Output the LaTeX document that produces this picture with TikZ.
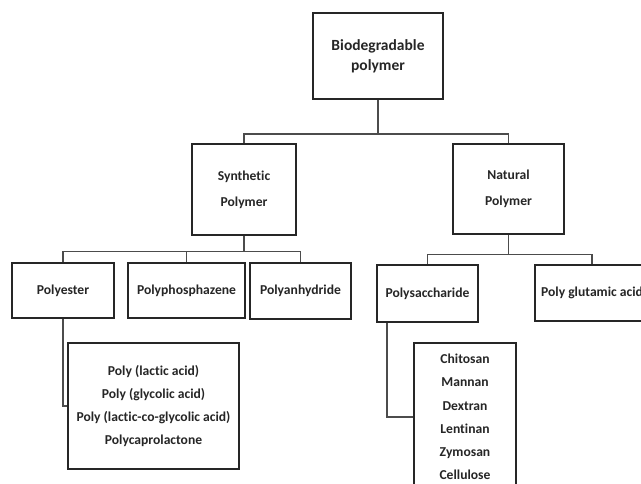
\documentclass[tikz,border=0pt]{standalone}
\usepackage{fontspec}
\setmainfont{Carlito}[Ligatures=NoCommon]
\usetikzlibrary{calc}
\tikzset{
  pbox/.style={draw=black!85, line width=1.6pt, inner sep=0pt, align=center, text=black!85,
    font=\fontsize{13.6}{23.3}\selectfont\bfseries},
  conn/.style={draw=black!70, line width=1.6pt},
}
\begin{document}
\begin{tikzpicture}[x=1pt,y=-1pt]
\fill[white] (0,0) rectangle (641,484);
\useasboundingbox (0,0) rectangle (641,484);
\clip (0,0) rectangle (641,484);
% nodes
\node[pbox, minimum width=130pt, minimum height=86pt, font=\fontsize{15.5}{20}\selectfont\bfseries] (top) at (378,56) {Biodegradable\\polymer};
\node[pbox, minimum width=104pt, minimum height=91pt, font=\fontsize{13.6}{26}\selectfont\bfseries] (syn) at (244,189.5) {Synthetic\\Polymer};
\node[pbox, minimum width=111pt, minimum height=90pt, font=\fontsize{13.6}{26}\selectfont\bfseries] (nat) at (508.5,189) {Natural\\Polymer};
\node[pbox, minimum width=102pt, minimum height=55pt] (pe) at (63,290.5) {Polyester};
\node[pbox, minimum width=117pt, minimum height=55pt] (pp) at (186.5,290.5) {Polyphosphazene};
\node[pbox, minimum width=101pt, minimum height=56pt] (pa) at (300.5,291) {Polyanhydride};
\node[pbox, minimum width=101pt, minimum height=57pt] (ps) at (427.5,293.5) {Polysaccharide};
\node[pbox, minimum width=114pt, minimum height=56pt] (pg) at (592,293) {Poly glutamic acid};
\node[pbox, minimum width=171pt, minimum height=126pt] (pel) at (153.5,406) {Poly (lactic acid)\\Poly (glycolic acid)\\Poly (lactic-co-glycolic acid)\\Polycaprolactone};
\node[pbox, minimum width=102pt, minimum height=148pt] (psl) at (465,417) {Chitosan\\Mannan\\Dextran\\Lentinan\\Zymosan\\Cellulose};
% bus points
\coordinate (b1) at (378,134);
\coordinate (b2) at (244,251.5);
\coordinate (b3) at (508.5,254.5);
% connectors
\draw[conn] (top.south) -- (b1);
\draw[conn] (syn.north) |- (b1) -| (nat.north);
\draw[conn] (syn.south) -- (b2);
\draw[conn] (pe.north) |- (b2) -| (pa.north);
\draw[conn] (pp.north) |- (b2);
\draw[conn] (nat.south) -- (b3);
\draw[conn] (ps.north) |- (b3) -| (pg.north);
\draw[conn] (pe.south) |- (pel.west);
\draw[conn] ([xshift=11pt]ps.south west) |- (psl.west);
\end{tikzpicture}
\end{document}
